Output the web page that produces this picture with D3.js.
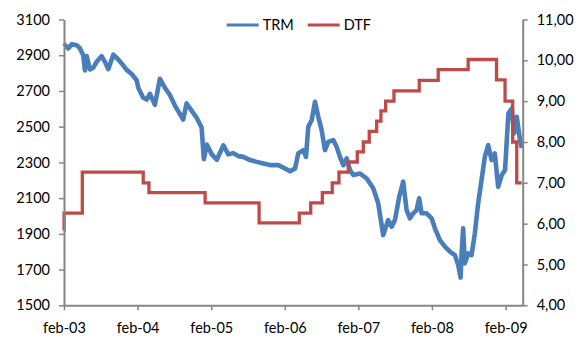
<!DOCTYPE html>
<html><head><meta charset="utf-8">
<script src="https://cdn.jsdelivr.net/npm/d3@7/dist/d3.min.js"></script>
<style>
body{margin:0;background:#fff;}
svg{display:block;font-family:Lato,"Liberation Sans",sans-serif;}
</style></head>
<body><svg id="chart" width="582" height="339"></svg>
<script>
// ---- data (dates as decimal years) ----
const seriesNames = ["TRM", "DTF"];
const xTickLabels = ["feb-03","feb-04","feb-05","feb-06","feb-07","feb-08","feb-09"];
const leftTicks = [1500,1700,1900,2100,2300,2500,2700,2900,3100];
const rightTicks = [4,5,6,7,8,9,10,11];

const trmDates = [2003.085,2003.099,2003.143,2003.190,2003.258,2003.302,2003.347,2003.370,2003.393,2003.438,2003.483,2003.529,2003.597,2003.642,2003.687,2003.755,2003.823,2003.869,2003.937,2004.005,2004.073,2004.095,2004.162,2004.209,2004.253,2004.321,2004.389,2004.457,2004.525,2004.593,2004.706,2004.752,2004.820,2004.888,2004.956,2004.987,2005.024,2005.092,2005.160,2005.249,2005.317,2005.385,2005.453,2005.521,2005.612,2005.703,2005.793,2005.884,2005.997,2006.088,2006.156,2006.224,2006.268,2006.336,2006.373,2006.404,2006.451,2006.495,2006.540,2006.586,2006.631,2006.676,2006.744,2006.790,2006.835,2006.880,2006.926,2006.971,2007.016,2007.107,2007.198,2007.287,2007.355,2007.423,2007.491,2007.537,2007.582,2007.641,2007.695,2007.741,2007.786,2007.831,2007.877,2007.912,2007.945,2008.013,2008.081,2008.126,2008.194,2008.262,2008.330,2008.398,2008.443,2008.475,2008.489,2008.510,2008.533,2008.578,2008.624,2008.669,2008.714,2008.760,2008.805,2008.850,2008.896,2008.941,2008.986,2009.032,2009.077,2009.122,2009.168,2009.199,2009.236,2009.281,2009.304];
const trmValues = [2950,2956,2938,2962,2956,2938,2900,2815,2895,2820,2830,2863,2895,2863,2822,2903,2876,2854,2818,2795,2760,2718,2662,2652,2684,2622,2768,2718,2677,2618,2540,2630,2590,2550,2495,2318,2400,2345,2315,2395,2345,2352,2335,2331,2313,2303,2294,2285,2285,2266,2250,2266,2350,2369,2331,2499,2537,2639,2555,2481,2369,2415,2425,2387,2331,2285,2322,2257,2229,2238,2210,2155,2071,1893,1977,1940,1977,2108,2192,2033,1987,2015,2033,2099,2015,2015,1987,1931,1865,1828,1800,1781,1725,1655,1791,1931,1735,1791,1781,1903,2071,2201,2331,2397,2313,2350,2163,2229,2257,2574,2602,2462,2555,2425,2380];

const dtfDates = [2003.085,2003.086,2003.334,2004.162,2004.240,2005.001,2005.735,2006.282,2006.437,2006.595,2006.730,2006.821,2006.948,2007.070,2007.152,2007.233,2007.334,2007.392,2007.456,2007.569,2007.913,2008.171,2008.578,2008.964,2009.077,2009.181,2009.236,2009.304];
const dtfValues = [5.83,6.26,7.26,7.0,6.76,6.51,6.02,6.26,6.51,6.76,7.0,7.26,7.51,7.76,8.0,8.26,8.51,8.76,9.0,9.25,9.51,9.77,10.02,9.52,9.0,8.0,7.0,7.0];

// ---- helpers ----
function toDate(t){
  const y = Math.floor(t);
  const start = new Date(y,0,1).getTime();
  return new Date(start + (t - y) * 365 * 864e5);
}
const trm = trmDates.map((d,i)=>({date:toDate(d), v:trmValues[i]}));
const dtf = dtfDates.map((d,i)=>({date:toDate(d), v:dtfValues[i]}));
const xTickDates = xTickLabels.map((s,i)=>new Date(2003+i,1,1));

const svg = d3.select("#chart");
const L=64, R=522.7, T=19.5, B=305.3;
const x = d3.scaleTime().domain([new Date(2003,1,1), toDate(2009.317)]).range([L,R]);
const yL = d3.scaleLinear().domain([1500,3100]).range([B,T]);
const yR = d3.scaleLinear().domain([4,11]).range([B,T]);

const axisColor = "#868686";
const fontSize = "14.5px";

// TRM
svg.append("path").datum(trm)
  .attr("fill","none").attr("stroke","#4A7EBB").attr("stroke-width",4.6)
  .attr("stroke-linejoin","round")
  .attr("d", d3.line().x(d=>x(d.date)).y(d=>yL(d.v)));

// DTF step
svg.append("path").datum(dtf)
  .attr("fill","none").attr("stroke","#BE4B48").attr("stroke-width",3.3)
  .attr("d", d3.line().curve(d3.curveStepAfter).x(d=>x(d.date)).y(d=>yR(d.v)));

// axes
function styleAxis(g){
  g.select(".domain").attr("stroke",axisColor).attr("stroke-width",2);
  g.selectAll(".tick line").attr("stroke",axisColor).attr("stroke-width",1.5);
  g.selectAll(".tick text").attr("fill","#000").style("font-size",fontSize).style("font-family","Lato");
}
const gl = svg.append("g").attr("transform",`translate(${L},0)`)
  .call(d3.axisLeft(yL).tickValues(leftTicks).tickSize(5).tickSizeOuter(0).tickPadding(9).tickFormat(d3.format("d")));
styleAxis(gl);
const gr = svg.append("g").attr("transform",`translate(${R},0)`)
  .call(d3.axisRight(yR).tickValues(rightTicks).tickSize(5).tickSizeOuter(0).tickPadding(9)
    .tickFormat(d=>d3.format(".2f")(d).replace(".",",")));
styleAxis(gr);
const gx = svg.append("g").attr("transform",`translate(0,${B})`)
  .call(d3.axisBottom(x).tickValues(xTickDates).tickSize(5).tickSizeOuter(0).tickPadding(12)
    .tickFormat((d,i)=>xTickLabels[i]));
styleAxis(gx);

// legend
const legend = [
  {name:seriesNames[0], color:"#4A7EBB", x1:226.7},
  {name:seriesNames[1], color:"#BE4B48", x1:307.7}
];
legend.forEach(l=>{
  svg.append("line").attr("x1",l.x1).attr("x2",l.x1+32).attr("y1",25).attr("y2",25)
    .attr("stroke",l.color).attr("stroke-width",3);
  svg.append("text").attr("x",l.x1+36).attr("y",30).text(l.name)
    .style("font-size",fontSize).attr("fill","#000");
});
</script></body></html>
